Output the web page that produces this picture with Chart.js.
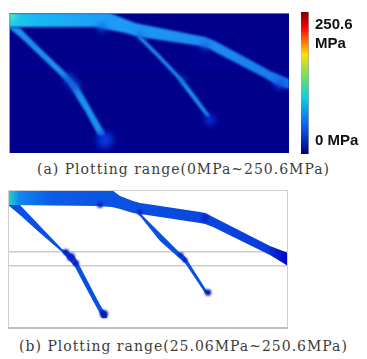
<!DOCTYPE html>
<html>
<head>
<meta charset="utf-8">
<script src="https://cdn.jsdelivr.net/npm/chart.js@4/dist/chart.umd.min.js"></script>
<style>
  html, body { margin: 0; padding: 0; background: #fff; }
  canvas { position: absolute; }
  #plotA { left: 9px; top: 13px; }
  #plotB { left: 8px; top: 190px; }
  #bar { left: 301px; top: 12px; }
  .cap { position: absolute; left: 0; width: 367px; text-align: center; white-space: nowrap;
         font: 14px "DejaVu Serif", serif; letter-spacing: 1px; color: #3c3c3c; }
</style>
</head>
<body>
<canvas id="plotA" width="280" height="140"></canvas>
<canvas id="plotB" width="280" height="139"></canvas>
<canvas id="bar" width="66" height="142"></canvas>
<div class="cap" id="capA" style="top:161px"></div>
<div class="cap" id="capB" style="top:338px"></div>
<script>
const captionA = '(a) Plotting range(0MPa~250.6MPa)';
const captionB = '(b) Plotting range(25.06MPa~250.6MPa)';

// plot (a), units are from the plot's top left corner
const aTrunkX = [0, 86, 96, 101, 111, 116, 126, 131, 191, 196, 201, 206, 256, 261, 266, 280];
const aTrunkTop = [0, 0, 0, 0, 4, 6, 10, 11, 23, 24, 26, 28, 55, 58, 60, 66];
const aTrunkBottom = [14, 14, 16, 17, 19, 20, 23, 24, 33, 34, 36, 39, 65, 68, 71, 76];
const aLeftX = [1, 11, 31, 53, 59, 63, 69, 76, 89, 96];
const aLeftTop = [14, 15, 35, 56, 62, 67, 73, 85, 108, 120];
const aLeftBottom = [16, 24, 43, 64, 70, 76, 87, 98, 122, 124];
const aMidX = [128, 133, 151, 168, 173, 186, 197, 201];
const aMidTop = [23, 24, 42, 60, 65, 82, 97, 102];
const aMidBottom = [24, 29, 47, 65, 72, 89, 103, 105];
const aJointX = [60, 66, 174, 96, 201, 93, 131, 196, 271, 2];
const aJointY = [66, 73, 67, 127, 107, 15, 23, 33, 71, 2];
const aGuides = [64];

// plot (b)
const bTrunkX = [0, 89, 104, 112, 125, 132, 139, 192, 197, 205, 262, 280];
const bTrunkTop = [0, 0, 0, 6, 11, 13, 14, 22, 23, 27, 56, 63];
const bTrunkBottom = [15, 16, 17, 19, 23, 24, 25, 33, 34, 37, 65, 76];
const bLeftX = [0, 12, 32, 54, 60, 67, 77, 90, 94, 99];
const bLeftTop = [15, 15, 36, 59, 61.5, 67, 86, 111, 118, 125];
const bLeftBottom = [15, 25, 43, 62, 69, 77, 96, 120, 128, 128];
const bMidX = [129, 132, 152, 170, 177, 197, 200];
const bMidTop = [23, 23, 43, 61, 66.5, 98, 102];
const bMidBottom = [23, 26, 51, 67, 73, 103, 104];
const bJointX = [58, 63, 68, 173, 177, 96, 200, 92, 132, 197];
const bJointY = [62, 67, 73, 65, 70, 124, 102.5, 15, 22, 28];
const bGuides = [62, 76];

// colour bar
const barRange = [250.6];
const barTicks = [211, 23];
const barTickLabels = [['250.6', 'MPa'], '0 MPa'];
const barStopAt = [0, 0.11, 0.3, 0.45, 0.6, 0.8, 1];
const barStopColor = ['#7a0000', '#ff0000', '#ffe000', '#70e060', '#10d0e0', '#1060f0', '#00007a'];

document.getElementById('capA').textContent = captionA;
document.getElementById('capB').textContent = captionB;

function gradient(ctx, len, vertical, at, colors) {
  const g = vertical ? ctx.createLinearGradient(0, 0, 0, len) : ctx.createLinearGradient(0, 0, len, 0);
  at.forEach((a, i) => g.addColorStop(a, colors[i]));
  return g;
}

// one branch: upper edge filled down to the lower edge
function band(xs, top, bottom, color) {
  return [
    { data: xs.map((x, i) => ({ x: x, y: top[i] })), fill: '+1', backgroundColor: color },
    { data: xs.map((x, i) => ({ x: x, y: bottom[i] })), fill: false }
  ];
}

function joints(xs, ys, radii, colors) {
  return {
    data: xs.map((x, i) => ({ x: x, y: ys[i] })),
    showLine: false,
    pointRadius: radii,
    pointBackgroundColor: colors
  };
}

function plotOptions(w, h, guides, gridColor) {
  return {
    responsive: false,
    animation: false,
    events: [],
    layout: { padding: 0, autoPadding: false },
    datasets: { line: { borderWidth: 0, pointRadius: 0, tension: 0 } },
    elements: { point: { borderWidth: 0 } },
    plugins: { legend: { display: false }, tooltip: { enabled: false } },
    scales: {
      x: { type: 'linear', display: false, min: 0, max: w },
      y: {
        type: 'linear', min: 0, max: h, reverse: true,
        border: { display: false },
        ticks: { display: false },
        grid: { color: gridColor, lineWidth: 1.5, drawTicks: false },
        afterBuildTicks: s => { s.ticks = guides.map(v => ({ value: v })); },
        afterFit: s => { s.width = 0; }
      }
    }
  };
}

function softPlugin(blur, jointBlur, bg, frame) {
  return {
    id: 'soft',
    beforeDraw(chart) {
      if (bg) {
        chart.ctx.fillStyle = bg;
        chart.ctx.fillRect(0, 0, chart.width, chart.height);
      }
    },
    beforeDatasetsDraw(chart) {
      chart.ctx.save();
      chart.ctx.filter = 'blur(' + blur + 'px)';
    },
    beforeDatasetDraw(chart, args) {
      if (args.index === 0) chart.ctx.filter = 'blur(' + jointBlur + 'px)';
    },
    afterDatasetsDraw(chart) {
      chart.ctx.restore();
    },
    afterDraw(chart) { frame(chart.ctx, chart.width, chart.height); }
  };
}

const ctxA = document.getElementById('plotA').getContext('2d');
const ctxB = document.getElementById('plotB').getContext('2d');

const aTrunkFill = gradient(ctxA, 280, false, [0, 0.1, 0.35, 0.7, 1], ['#22d0e8', '#18b8f4', '#1e9cf8', '#1e8cf4', '#1878ee']);
const aBranchFill = '#1c90f2';
const bTrunkFill = gradient(ctxB, 280, false, [0, 0.04, 0.15, 0.5, 0.92, 1], ['#28d8c0', '#1088f0', '#0c5ce8', '#0a4ee0', '#0a3cdc', '#0000c8']);
const bBranchFill = '#0a50e2';

new Chart(ctxA, {
  type: 'line',
  data: {
    datasets: [
      joints(aJointX, aJointY, [5, 5, 3, 8, 5, 4, 3, 4, 5, 4],
        ['#1050d8', '#1050d8', '#1058e0', '#0838dc', '#0838dc', '#1058e0', '#1058e0', '#1060e4', '#1050e0', '#80e8a0']),
      ...band(aTrunkX, aTrunkTop, aTrunkBottom, aTrunkFill),
      ...band(aLeftX, aLeftTop, aLeftBottom, aBranchFill),
      ...band(aMidX, aMidTop, aMidBottom, aBranchFill)
    ]
  },
  options: plotOptions(280, 140, aGuides, '#00007c'),
  plugins: [softPlugin(1.3, 3, '#00008c', (c, w, h) => {
    c.fillStyle = '#6c6cae';
    c.fillRect(0, 0, w, 1);
    c.fillStyle = '#9a9ab0';
    c.fillRect(0, 0, 1, h);
  })]
});

new Chart(ctxB, {
  type: 'line',
  data: {
    datasets: [
      joints(bJointX, bJointY, [3, 4, 3, 2.5, 2.5, 4, 3.2, 3, 3, 4],
        ['#0a20c4', '#0a20c4', '#0a20c4', '#0a20c4', '#0a20c4', '#0818b8', '#0818b8', '#0a28c8', '#0a28c8', '#0a28c8']),
      ...band(bTrunkX, bTrunkTop, bTrunkBottom, bTrunkFill),
      ...band(bLeftX, bLeftTop, bLeftBottom, bBranchFill),
      ...band(bMidX, bMidTop, bMidBottom, bBranchFill)
    ]
  },
  options: plotOptions(280, 139, bGuides, '#cccccc'),
  plugins: [softPlugin(0.6, 1, null, (c, w, h) => {
    c.strokeStyle = '#d0d0d0';
    c.lineWidth = 1;
    c.strokeRect(0.5, 0.5, w - 1, h - 1);
    c.fillStyle = '#c0c0c0';
    c.fillRect(0, h - 2, w, 2);
  })]
});

const ctxBar = document.getElementById('bar').getContext('2d');
new Chart(ctxBar, {
  type: 'bar',
  data: {
    labels: [''],
    datasets: [{
      data: barRange,
      backgroundColor: gradient(ctxBar, 142, true, barStopAt, barStopColor),
      borderColor: '#a0a4b0',
      borderWidth: { right: 1 },
      borderSkipped: false,
      barPercentage: 1,
      categoryPercentage: 1
    }]
  },
  options: {
    responsive: false,
    animation: false,
    events: [],
    layout: { padding: 0, autoPadding: false },
    plugins: { legend: { display: false }, tooltip: { enabled: false } },
    scales: {
      x: { display: false },
      y: {
        position: 'right',
        min: 0,
        max: barRange[0],
        border: { display: false },
        grid: { display: false },
        ticks: {
          autoSkip: false,
          padding: -2,
          crossAlign: 'near',
          color: '#111',
          font: { family: '"Liberation Sans", Arial, sans-serif', size: 15, weight: 'bold', lineHeight: 1.27 },
          callback: (v, i) => barTickLabels[i]
        },
        afterBuildTicks: s => { s.ticks = barTicks.map(v => ({ value: v })); },
        afterFit: s => {
          s.width = 58;
          s.paddingTop = 0;
          s.paddingBottom = 0;
        }
      }
    }
  }
});
</script>
</body>
</html>
